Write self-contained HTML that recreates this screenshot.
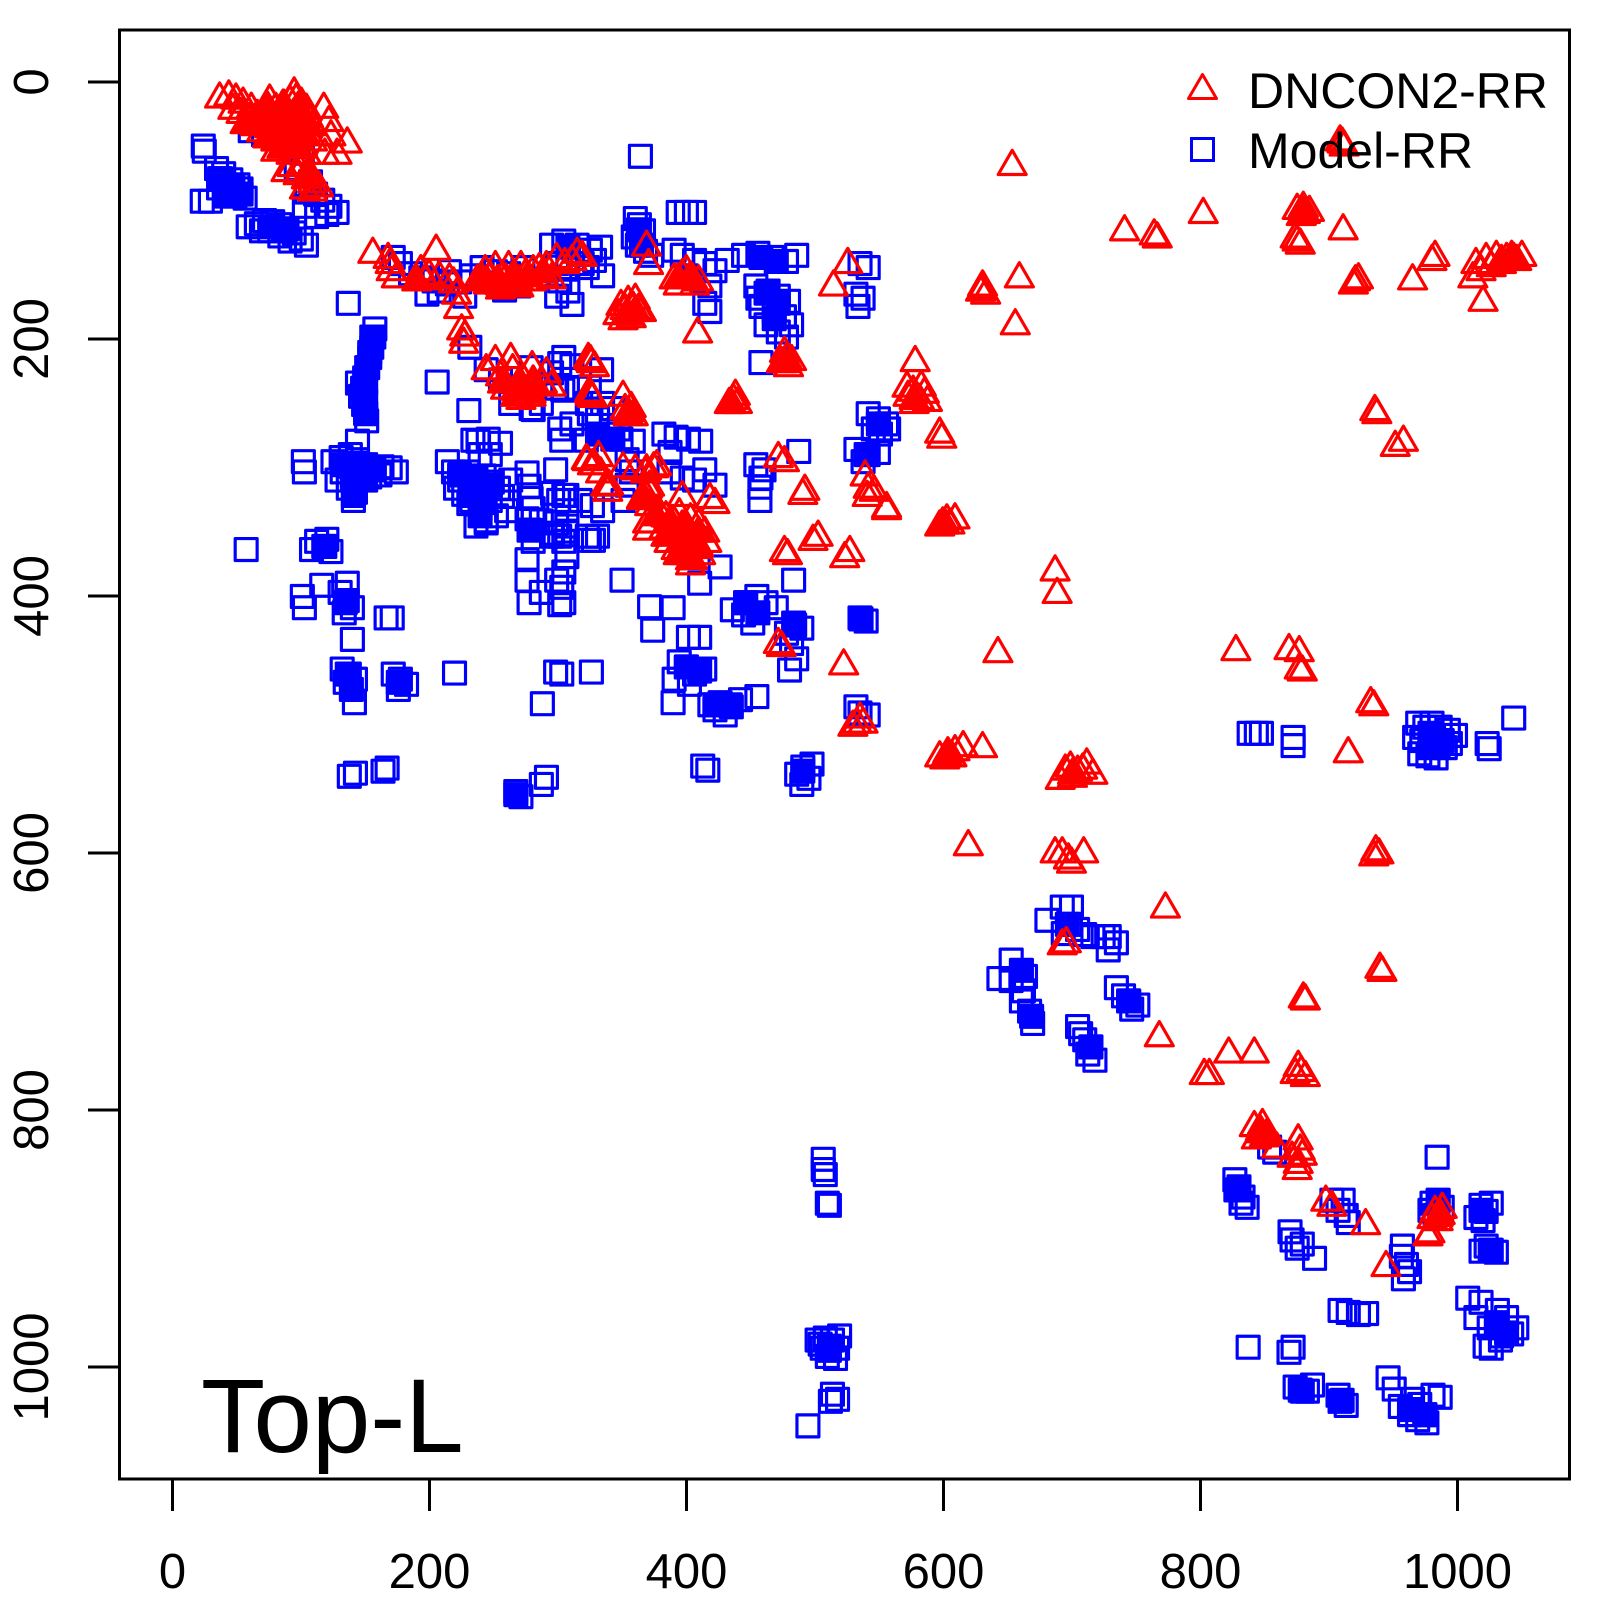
<!DOCTYPE html>
<html>
<head>
<meta charset="utf-8">
<style>
html,body{margin:0;padding:0;background:#fff}
svg{display:block}
text{font-family:"Liberation Sans","DejaVu Sans",sans-serif;fill:#000}
</style>
</head>
<body>
<svg width="1600" height="1600" viewBox="0 0 1600 1600">
<defs>
<path id="t" d="M0,-11.85L13.7,11.85L-13.7,11.85Z" fill="none" stroke="#ff0000" stroke-width="3.1" stroke-linejoin="round"/>
<path id="tf" d="M0,-11.85L13.7,11.85L-13.7,11.85Z" fill="#ff0000" stroke="#ff0000" stroke-width="3.1" stroke-linejoin="round"/>
<rect id="s" x="-10.75" y="-10.75" width="21.5" height="21.5" fill="none" stroke="#0000ff" stroke-width="3.1" stroke-linejoin="round"/>
<rect id="sf" x="-10.75" y="-10.75" width="21.5" height="21.5" fill="#0000ff" stroke="#0000ff" stroke-width="3.1" stroke-linejoin="round"/>
</defs>
<rect x="0" y="0" width="1600" height="1600" fill="#fff"/>
<g transform="scale(1.0214)">
<!-- BLUE -->
<use href="#s" x="199" y="143"/><use href="#s" x="200" y="148"/><use href="#s" x="212" y="165"/><use href="#s" x="219" y="170"/><use href="#s" x="226" y="176"/><use href="#s" x="233" y="181"/><use href="#s" x="214" y="184"/><use href="#s" x="222" y="188"/><use href="#s" x="230" y="192"/><use href="#s" x="240" y="194"/><use href="#s" x="198" y="197"/><use href="#s" x="206" y="197"/><use href="#s" x="216" y="175"/><use href="#s" x="236" y="185"/>
<use href="#s" x="243" y="222"/><use href="#s" x="251" y="219"/><use href="#s" x="259" y="216"/><use href="#s" x="267" y="217"/><use href="#s" x="274" y="220"/><use href="#s" x="281" y="224"/><use href="#s" x="288" y="228"/><use href="#s" x="295" y="234"/><use href="#s" x="300" y="240"/><use href="#s" x="264" y="226"/><use href="#s" x="274" y="231"/><use href="#s" x="284" y="236"/><use href="#s" x="256" y="226"/>
<use href="#s" x="245" y="128"/><use href="#s" x="258" y="132"/><use href="#s" x="272" y="122"/><use href="#s" x="288" y="112"/><use href="#s" x="296" y="150"/><use href="#s" x="290" y="165"/><use href="#s" x="304" y="178"/><use href="#s" x="309" y="190"/><use href="#s" x="316" y="196"/><use href="#s" x="323" y="202"/><use href="#s" x="330" y="208"/><use href="#s" x="320" y="210"/><use href="#s" x="300" y="188"/><use href="#s" x="298" y="202"/><use href="#s" x="310" y="212"/>
<use href="#s" x="385" y="252"/><use href="#s" x="392" y="258"/><use href="#s" x="402" y="268"/><use href="#s" x="412" y="272"/><use href="#s" x="425" y="275"/><use href="#s" x="438" y="278"/><use href="#s" x="450" y="276"/><use href="#s" x="462" y="270"/><use href="#s" x="440" y="266"/><use href="#s" x="472" y="262"/><use href="#s" x="485" y="266"/><use href="#s" x="498" y="268"/><use href="#s" x="512" y="262"/><use href="#s" x="508" y="280"/><use href="#s" x="494" y="284"/><use href="#s" x="430" y="285"/><use href="#s" x="418" y="288"/><use href="#s" x="455" y="290"/>
<use href="#s" x="540" y="240"/><use href="#s" x="552" y="236"/><use href="#s" x="565" y="240"/><use href="#s" x="578" y="245"/><use href="#s" x="588" y="242"/><use href="#s" x="545" y="258"/><use href="#s" x="556" y="262"/><use href="#s" x="570" y="258"/><use href="#s" x="548" y="275"/><use href="#s" x="556" y="285"/><use href="#s" x="560" y="298"/><use href="#s" x="545" y="290"/><use href="#s" x="575" y="262"/><use href="#s" x="582" y="255"/><use href="#s" x="590" y="270"/>
<use href="#s" x="622" y="214"/><use href="#s" x="626" y="220"/><use href="#s" x="630" y="226"/><use href="#s" x="620" y="232"/><use href="#s" x="624" y="240"/><use href="#s" x="632" y="246"/><use href="#s" x="638" y="250"/>
<use href="#s" x="627" y="153"/><use href="#s" x="664" y="208"/><use href="#s" x="672" y="208"/><use href="#s" x="680" y="208"/>
<use href="#s" x="660" y="245"/><use href="#s" x="668" y="250"/><use href="#s" x="680" y="255"/><use href="#s" x="690" y="258"/><use href="#s" x="700" y="265"/><use href="#s" x="672" y="270"/><use href="#s" x="695" y="280"/><use href="#s" x="712" y="255"/><use href="#s" x="728" y="250"/><use href="#s" x="742" y="248"/><use href="#s" x="756" y="252"/><use href="#s" x="770" y="256"/><use href="#s" x="780" y="250"/>
<use href="#s" x="740" y="280"/><use href="#s" x="752" y="285"/><use href="#s" x="762" y="290"/><use href="#s" x="772" y="295"/><use href="#s" x="745" y="300"/><use href="#s" x="758" y="305"/><use href="#s" x="768" y="310"/><use href="#s" x="775" y="318"/><use href="#s" x="750" y="318"/><use href="#s" x="762" y="325"/><use href="#s" x="770" y="330"/><use href="#s" x="742" y="292"/>
<use href="#s" x="842" y="258"/><use href="#s" x="850" y="262"/><use href="#s" x="838" y="288"/><use href="#s" x="845" y="292"/><use href="#s" x="840" y="300"/>
<use href="#s" x="690" y="297"/><use href="#s" x="695" y="305"/><use href="#s" x="745" y="355"/>
<use href="#s" x="341" y="297"/>
<use href="#s" x="367" y="322"/><use href="#s" x="366" y="330"/><use href="#s" x="364" y="340"/><use href="#s" x="362" y="350"/><use href="#s" x="359" y="360"/><use href="#s" x="357" y="370"/><use href="#s" x="355" y="380"/><use href="#s" x="353" y="388"/><use href="#s" x="356" y="396"/><use href="#s" x="358" y="404"/><use href="#s" x="359" y="412"/><use href="#s" x="350" y="375"/>
<use href="#s" x="297" y="452"/><use href="#s" x="298" y="462"/><use href="#s" x="326" y="452"/><use href="#s" x="334" y="448"/><use href="#s" x="343" y="445"/><use href="#s" x="350" y="450"/><use href="#s" x="358" y="455"/><use href="#s" x="366" y="458"/><use href="#s" x="374" y="457"/><use href="#s" x="382" y="458"/><use href="#s" x="335" y="462"/><use href="#s" x="345" y="466"/><use href="#s" x="353" y="468"/><use href="#s" x="341" y="478"/><use href="#s" x="348" y="482"/><use href="#s" x="346" y="490"/><use href="#s" x="362" y="467"/><use href="#s" x="372" y="465"/><use href="#s" x="350" y="432"/><use href="#s" x="330" y="470"/><use href="#s" x="388" y="462"/>
<use href="#s" x="428" y="374"/><use href="#s" x="459" y="402"/><use href="#s" x="460" y="340"/>
<use href="#s" x="476" y="362"/><use href="#s" x="490" y="372"/><use href="#s" x="520" y="360"/><use href="#s" x="540" y="365"/><use href="#s" x="545" y="380"/><use href="#s" x="530" y="395"/><use href="#s" x="500" y="395"/><use href="#s" x="520" y="400"/><use href="#s" x="548" y="356"/><use href="#s" x="551" y="382"/><use href="#s" x="522" y="401"/>
<use href="#s" x="468" y="432"/><use href="#s" x="478" y="430"/><use href="#s" x="490" y="434"/><use href="#s" x="480" y="445"/><use href="#s" x="470" y="445"/><use href="#s" x="463" y="431"/>
<use href="#s" x="552" y="350"/><use href="#s" x="560" y="358"/><use href="#s" x="565" y="380"/><use href="#s" x="575" y="395"/><use href="#s" x="590" y="395"/><use href="#s" x="600" y="400"/><use href="#s" x="585" y="410"/><use href="#s" x="577" y="379"/><use href="#s" x="577" y="405"/><use href="#s" x="596" y="425"/><use href="#s" x="608" y="430"/><use href="#s" x="620" y="432"/><use href="#s" x="606" y="420"/><use href="#s" x="560" y="415"/><use href="#s" x="548" y="420"/><use href="#s" x="550" y="431"/><use href="#s" x="574" y="431"/><use href="#s" x="589" y="362"/><use href="#s" x="614" y="450"/><use href="#s" x="618" y="462"/><use href="#s" x="614" y="475"/><use href="#s" x="610" y="490"/><use href="#s" x="544" y="460"/>
<use href="#s" x="650" y="425"/><use href="#s" x="662" y="428"/><use href="#s" x="674" y="430"/><use href="#s" x="686" y="432"/><use href="#s" x="656" y="443"/><use href="#s" x="655" y="462"/><use href="#s" x="668" y="468"/><use href="#s" x="680" y="470"/><use href="#s" x="690" y="460"/><use href="#s" x="700" y="475"/>
<use href="#s" x="438" y="452"/><use href="#s" x="444" y="462"/><use href="#s" x="450" y="470"/><use href="#s" x="458" y="462"/><use href="#s" x="466" y="468"/><use href="#s" x="474" y="466"/><use href="#s" x="482" y="472"/><use href="#s" x="488" y="478"/><use href="#s" x="492" y="486"/><use href="#s" x="480" y="490"/><use href="#s" x="470" y="498"/><use href="#s" x="462" y="490"/><use href="#s" x="454" y="484"/><use href="#s" x="446" y="478"/><use href="#s" x="472" y="480"/><use href="#s" x="496" y="500"/><use href="#s" x="476" y="510"/><use href="#s" x="466" y="515"/><use href="#s" x="486" y="505"/><use href="#s" x="500" y="470"/><use href="#s" x="467" y="483"/><use href="#s" x="459" y="493"/><use href="#s" x="476" y="512"/>
<use href="#s" x="516" y="463"/><use href="#s" x="518" y="476"/><use href="#s" x="520" y="488"/><use href="#s" x="522" y="498"/><use href="#s" x="516" y="508"/><use href="#s" x="530" y="510"/><use href="#s" x="541" y="483"/><use href="#s" x="545" y="512"/><use href="#s" x="548" y="525"/><use href="#s" x="540" y="525"/><use href="#s" x="555" y="520"/><use href="#s" x="522" y="509"/><use href="#s" x="541" y="522"/><use href="#s" x="547" y="490"/>
<use href="#s" x="518" y="519"/><use href="#s" x="522" y="530"/><use href="#s" x="516" y="548"/><use href="#s" x="516" y="568"/><use href="#s" x="545" y="568"/><use href="#s" x="518" y="590"/><use href="#s" x="548" y="592"/><use href="#s" x="530" y="580"/>
<use href="#s" x="552" y="485"/><use href="#s" x="555" y="500"/><use href="#s" x="555" y="515"/><use href="#s" x="552" y="530"/><use href="#s" x="555" y="545"/><use href="#s" x="552" y="560"/><use href="#s" x="550" y="575"/><use href="#s" x="552" y="590"/>
<use href="#s" x="555" y="485"/><use href="#s" x="568" y="490"/><use href="#s" x="580" y="495"/><use href="#s" x="590" y="500"/>
<use href="#s" x="577" y="529"/><use href="#s" x="585" y="525"/><use href="#s" x="575" y="525"/><use href="#s" x="609" y="568"/><use href="#s" x="581" y="529"/>
<use href="#s" x="744" y="477"/><use href="#s" x="744" y="490"/><use href="#s" x="740" y="455"/><use href="#s" x="748" y="460"/><use href="#s" x="745" y="468"/><use href="#s" x="782" y="442"/>
<use href="#s" x="636" y="594"/><use href="#s" x="659" y="595"/><use href="#s" x="639" y="617"/><use href="#s" x="685" y="624"/><use href="#s" x="674" y="624"/>
<use href="#s" x="672" y="653"/><use href="#s" x="665" y="648"/><use href="#s" x="680" y="660"/><use href="#s" x="690" y="655"/><use href="#s" x="660" y="665"/><use href="#s" x="675" y="670"/>
<use href="#s" x="659" y="688"/><use href="#s" x="705" y="688"/><use href="#s" x="695" y="690"/><use href="#s" x="715" y="690"/><use href="#s" x="725" y="685"/><use href="#s" x="741" y="682"/><use href="#s" x="710" y="700"/><use href="#s" x="700" y="695"/>
<use href="#s" x="705" y="555"/><use href="#s" x="685" y="571"/><use href="#s" x="741" y="584"/><use href="#s" x="730" y="590"/><use href="#s" x="717" y="597"/><use href="#s" x="750" y="590"/><use href="#s" x="737" y="610"/><use href="#s" x="728" y="602"/><use href="#s" x="760" y="595"/>
<use href="#s" x="777" y="568"/><use href="#s" x="777" y="610"/><use href="#s" x="770" y="620"/><use href="#s" x="785" y="615"/><use href="#s" x="775" y="630"/><use href="#s" x="773" y="656"/><use href="#s" x="780" y="645"/>
<use href="#s" x="842" y="605"/><use href="#s" x="848" y="608"/><use href="#s" x="842" y="698"/><use href="#s" x="850" y="700"/><use href="#s" x="838" y="692"/>
<use href="#s" x="693" y="754"/><use href="#s" x="688" y="750"/><use href="#s" x="786" y="751"/><use href="#s" x="780" y="758"/><use href="#s" x="795" y="748"/><use href="#s" x="792" y="762"/><use href="#s" x="785" y="768"/>
<use href="#s" x="850" y="405"/><use href="#s" x="860" y="410"/><use href="#s" x="868" y="415"/><use href="#s" x="855" y="420"/><use href="#s" x="862" y="425"/><use href="#s" x="870" y="420"/><use href="#s" x="838" y="440"/><use href="#s" x="850" y="445"/><use href="#s" x="860" y="443"/><use href="#s" x="845" y="452"/>
<use href="#s" x="241" y="538"/><use href="#s" x="310" y="530"/><use href="#s" x="317" y="535"/><use href="#s" x="324" y="540"/><use href="#s" x="320" y="528"/><use href="#s" x="305" y="538"/>
<use href="#s" x="296" y="584"/><use href="#s" x="298" y="595"/><use href="#s" x="333" y="580"/><use href="#s" x="340" y="588"/><use href="#s" x="345" y="595"/><use href="#s" x="337" y="600"/><use href="#s" x="315" y="573"/><use href="#s" x="340" y="571"/>
<use href="#s" x="384" y="605"/><use href="#s" x="378" y="605"/><use href="#s" x="345" y="626"/>
<use href="#s" x="335" y="655"/><use href="#s" x="342" y="660"/><use href="#s" x="348" y="665"/><use href="#s" x="338" y="668"/><use href="#s" x="347" y="688"/>
<use href="#s" x="385" y="660"/><use href="#s" x="392" y="665"/><use href="#s" x="398" y="670"/><use href="#s" x="390" y="675"/>
<use href="#s" x="445" y="659"/><use href="#s" x="544" y="658"/><use href="#s" x="550" y="660"/><use href="#s" x="579" y="658"/><use href="#s" x="531" y="689"/>
<use href="#s" x="348" y="757"/><use href="#s" x="342" y="760"/><use href="#s" x="379" y="752"/><use href="#s" x="375" y="755"/>
<use href="#s" x="505" y="775"/><use href="#s" x="510" y="780"/><use href="#s" x="535" y="761"/><use href="#s" x="530" y="768"/>
<use href="#s" x="806" y="1135"/><use href="#s" x="806" y="1145"/><use href="#s" x="808" y="1150"/><use href="#s" x="810" y="1178"/><use href="#s" x="812" y="1180"/>
<use href="#s" x="800" y="1312"/><use href="#s" x="808" y="1310"/><use href="#s" x="815" y="1312"/><use href="#s" x="822" y="1308"/><use href="#s" x="805" y="1320"/><use href="#s" x="812" y="1322"/><use href="#s" x="820" y="1320"/><use href="#s" x="810" y="1328"/><use href="#s" x="818" y="1330"/><use href="#s" x="803" y="1316"/>
<use href="#s" x="815" y="1365"/><use href="#s" x="820" y="1370"/><use href="#s" x="813" y="1372"/><use href="#s" x="791" y="1396"/>
<use href="#s" x="1223" y="718"/><use href="#s" x="1230" y="718"/><use href="#s" x="1235" y="718"/><use href="#s" x="1266" y="722"/><use href="#s" x="1266" y="730"/>
<use href="#s" x="1388" y="708"/><use href="#s" x="1395" y="712"/><use href="#s" x="1402" y="708"/><use href="#s" x="1410" y="712"/><use href="#s" x="1418" y="715"/><use href="#s" x="1425" y="720"/><use href="#s" x="1385" y="722"/><use href="#s" x="1392" y="725"/><use href="#s" x="1400" y="728"/><use href="#s" x="1408" y="730"/><use href="#s" x="1415" y="732"/><use href="#s" x="1390" y="738"/><use href="#s" x="1398" y="740"/><use href="#s" x="1406" y="742"/><use href="#s" x="1420" y="728"/>
<use href="#s" x="1456" y="728"/><use href="#s" x="1458" y="733"/><use href="#s" x="1482" y="703"/>
<use href="#s" x="1025" y="901"/><use href="#s" x="1040" y="888"/><use href="#s" x="1049" y="888"/><use href="#s" x="1048" y="905"/><use href="#s" x="1041" y="914"/><use href="#s" x="1055" y="910"/><use href="#s" x="1062" y="915"/><use href="#s" x="1070" y="917"/><use href="#s" x="1080" y="917"/><use href="#s" x="1086" y="917"/><use href="#s" x="1093" y="923"/><use href="#s" x="1085" y="930"/>
<use href="#s" x="990" y="940"/><use href="#s" x="978" y="958"/><use href="#s" x="990" y="960"/><use href="#s" x="1004" y="956"/><use href="#s" x="1002" y="970"/><use href="#s" x="1000" y="980"/><use href="#s" x="1008" y="990"/><use href="#s" x="1011" y="1002"/>
<use href="#s" x="1055" y="1005"/><use href="#s" x="1058" y="1012"/><use href="#s" x="1062" y="1018"/><use href="#s" x="1068" y="1025"/><use href="#s" x="1072" y="1038"/><use href="#s" x="1065" y="1032"/>
<use href="#s" x="1093" y="967"/><use href="#s" x="1100" y="975"/><use href="#s" x="1105" y="980"/><use href="#s" x="1114" y="984"/><use href="#s" x="1108" y="988"/>
<use href="#s" x="1209" y="1155"/><use href="#s" x="1213" y="1162"/><use href="#s" x="1217" y="1172"/><use href="#s" x="1221" y="1182"/><use href="#s" x="1215" y="1178"/><use href="#s" x="1210" y="1165"/>
<use href="#s" x="1243" y="1123"/><use href="#s" x="1248" y="1128"/>
<use href="#s" x="1304" y="1175"/><use href="#s" x="1315" y="1175"/><use href="#s" x="1310" y="1185"/><use href="#s" x="1320" y="1197"/><use href="#s" x="1318" y="1190"/>
<use href="#s" x="1263" y="1206"/><use href="#s" x="1265" y="1214"/><use href="#s" x="1270" y="1222"/><use href="#s" x="1287" y="1232"/><use href="#s" x="1275" y="1218"/>
<use href="#s" x="1407" y="1133"/>
<use href="#s" x="1408" y="1175"/><use href="#s" x="1402" y="1178"/><use href="#s" x="1412" y="1182"/><use href="#s" x="1405" y="1190"/><use href="#s" x="1400" y="1185"/>
<use href="#s" x="1450" y="1180"/><use href="#s" x="1455" y="1186"/><use href="#s" x="1460" y="1178"/><use href="#s" x="1445" y="1192"/><use href="#s" x="1452" y="1195"/>
<use href="#s" x="1459" y="1224"/><use href="#s" x="1455" y="1220"/><use href="#s" x="1465" y="1226"/><use href="#s" x="1450" y="1225"/>
<use href="#s" x="1373" y="1220"/><use href="#s" x="1377" y="1238"/><use href="#s" x="1374" y="1252"/><use href="#s" x="1380" y="1245"/><use href="#s" x="1372" y="1230"/>
<use href="#s" x="1312" y="1283"/><use href="#s" x="1320" y="1285"/><use href="#s" x="1330" y="1287"/><use href="#s" x="1338" y="1286"/>
<use href="#s" x="1437" y="1271"/><use href="#s" x="1450" y="1275"/><use href="#s" x="1466" y="1283"/><use href="#s" x="1475" y="1290"/><use href="#s" x="1485" y="1300"/><use href="#s" x="1480" y="1306"/><use href="#s" x="1469" y="1312"/><use href="#s" x="1454" y="1318"/><use href="#s" x="1460" y="1320"/><use href="#s" x="1470" y="1308"/><use href="#s" x="1445" y="1290"/><use href="#s" x="1458" y="1300"/>
<use href="#s" x="1222" y="1319"/><use href="#s" x="1266" y="1319"/><use href="#s" x="1262" y="1324"/>
<use href="#s" x="1268" y="1358"/><use href="#s" x="1273" y="1361"/><use href="#s" x="1280" y="1362"/><use href="#s" x="1314" y="1371"/><use href="#s" x="1310" y="1366"/><use href="#s" x="1318" y="1376"/><use href="#s" x="1285" y="1356"/>
<use href="#s" x="1359" y="1349"/><use href="#s" x="1365" y="1360"/><use href="#s" x="1371" y="1377"/><use href="#s" x="1380" y="1385"/><use href="#s" x="1390" y="1375"/><use href="#s" x="1403" y="1366"/><use href="#s" x="1397" y="1393"/><use href="#s" x="1395" y="1385"/><use href="#s" x="1388" y="1390"/><use href="#s" x="1410" y="1368"/><use href="#s" x="1383" y="1370"/>
<!-- BLUE solid cores -->
<use href="#sf" x="215" y="175"/><use href="#sf" x="228" y="182"/><use href="#sf" x="222" y="192"/><use href="#sf" x="236" y="190"/>
<use href="#sf" x="266" y="222"/><use href="#sf" x="279" y="226"/>
<use href="#sf" x="364" y="330"/><use href="#sf" x="362" y="345"/><use href="#sf" x="360" y="360"/><use href="#sf" x="358" y="375"/><use href="#sf" x="358" y="392"/><use href="#sf" x="358" y="405"/>
<use href="#sf" x="336" y="455"/><use href="#sf" x="350" y="455"/><use href="#sf" x="365" y="460"/><use href="#sf" x="345" y="470"/><use href="#sf" x="358" y="470"/><use href="#sf" x="346" y="485"/>
<use href="#sf" x="450" y="465"/><use href="#sf" x="465" y="470"/><use href="#sf" x="480" y="475"/><use href="#sf" x="460" y="485"/><use href="#sf" x="475" y="492"/><use href="#sf" x="470" y="505"/>
<use href="#sf" x="625" y="225"/><use href="#sf" x="628" y="240"/>
<use href="#sf" x="745" y="252"/><use href="#sf" x="760" y="256"/><use href="#sf" x="750" y="287"/><use href="#sf" x="762" y="297"/><use href="#sf" x="758" y="312"/>
<use href="#sf" x="860" y="415"/><use href="#sf" x="848" y="445"/>
<use href="#sf" x="730" y="590"/><use href="#sf" x="742" y="600"/><use href="#sf" x="778" y="612"/>
<use href="#sf" x="672" y="653"/><use href="#sf" x="685" y="657"/>
<use href="#sf" x="700" y="690"/><use href="#sf" x="716" y="692"/>
<use href="#sf" x="843" y="606"/><use href="#sf" x="786" y="755"/>
<use href="#sf" x="318" y="535"/><use href="#sf" x="338" y="590"/><use href="#sf" x="340" y="660"/><use href="#sf" x="344" y="675"/><use href="#sf" x="390" y="668"/>
<use href="#sf" x="518" y="519"/><use href="#sf" x="505" y="778"/>
<use href="#sf" x="585" y="425"/><use href="#sf" x="600" y="430"/><use href="#sf" x="556" y="242"/>
<use href="#sf" x="1400" y="718"/><use href="#sf" x="1412" y="725"/><use href="#sf" x="1400" y="732"/>
<use href="#sf" x="1408" y="1176"/><use href="#sf" x="1450" y="1185"/><use href="#sf" x="1460" y="1224"/><use href="#sf" x="1465" y="1295"/><use href="#sf" x="1475" y="1305"/><use href="#sf" x="1380" y="1380"/><use href="#sf" x="1395" y="1385"/><use href="#sf" x="1275" y="1362"/><use href="#sf" x="1312" y="1372"/><use href="#sf" x="1213" y="1165"/>
<use href="#sf" x="1045" y="905"/><use href="#sf" x="1000" y="950"/><use href="#sf" x="1010" y="995"/><use href="#sf" x="1068" y="1025"/><use href="#sf" x="1105" y="980"/>
<use href="#sf" x="812" y="1318"/>
<!-- RED -->
<use href="#t" x="215" y="93"/><use href="#t" x="224" y="91"/><use href="#t" x="231" y="94"/><use href="#t" x="238" y="98"/><use href="#t" x="246" y="103"/><use href="#t" x="228" y="104"/><use href="#t" x="236" y="108"/><use href="#t" x="244" y="113"/><use href="#t" x="252" y="110"/><use href="#t" x="258" y="114"/><use href="#t" x="264" y="106"/><use href="#t" x="270" y="103"/><use href="#t" x="277" y="100"/><use href="#t" x="284" y="96"/><use href="#t" x="290" y="94"/><use href="#t" x="295" y="98"/><use href="#t" x="300" y="104"/><use href="#t" x="288" y="108"/><use href="#t" x="280" y="113"/><use href="#t" x="272" y="118"/><use href="#t" x="264" y="122"/><use href="#t" x="256" y="126"/><use href="#t" x="250" y="120"/><use href="#t" x="262" y="132"/><use href="#t" x="270" y="135"/><use href="#t" x="278" y="128"/><use href="#t" x="286" y="124"/><use href="#t" x="294" y="118"/><use href="#t" x="302" y="112"/><use href="#t" x="306" y="120"/><use href="#t" x="298" y="128"/><use href="#t" x="290" y="134"/><use href="#t" x="282" y="140"/><use href="#t" x="296" y="140"/><use href="#t" x="306" y="135"/><use href="#t" x="312" y="130"/><use href="#t" x="270" y="145"/><use href="#t" x="285" y="148"/><use href="#t" x="300" y="148"/><use href="#t" x="264" y="95"/><use href="#t" x="288" y="88"/><use href="#t" x="276" y="110"/><use href="#t" x="292" y="112"/>
<use href="#t" x="317" y="103"/><use href="#t" x="322" y="116"/><use href="#t" x="340" y="137"/><use href="#t" x="324" y="130"/><use href="#t" x="330" y="148"/><use href="#t" x="318" y="148"/>
<use href="#t" x="286" y="160"/><use href="#t" x="292" y="168"/><use href="#t" x="300" y="172"/><use href="#t" x="306" y="176"/><use href="#t" x="298" y="182"/><use href="#t" x="306" y="184"/><use href="#t" x="312" y="180"/><use href="#t" x="280" y="165"/><use href="#t" x="295" y="158"/><use href="#t" x="302" y="165"/>
<use href="#t" x="365" y="245"/><use href="#t" x="380" y="250"/><use href="#t" x="382" y="255"/><use href="#t" x="388" y="269"/><use href="#t" x="383" y="262"/><use href="#t" x="412" y="262"/><use href="#t" x="416" y="271"/><use href="#t" x="420" y="266"/><use href="#t" x="427" y="242"/><use href="#t" x="444" y="274"/><use href="#t" x="447" y="285"/><use href="#t" x="449" y="299"/><use href="#t" x="455" y="326"/><use href="#t" x="452" y="320"/><use href="#t" x="454" y="333"/><use href="#t" x="440" y="270"/><use href="#t" x="430" y="268"/>
<use href="#t" x="467" y="272"/><use href="#t" x="472" y="270"/><use href="#t" x="480" y="268"/><use href="#t" x="488" y="272"/><use href="#t" x="495" y="270"/><use href="#t" x="502" y="268"/><use href="#t" x="508" y="272"/><use href="#t" x="515" y="265"/><use href="#t" x="522" y="262"/><use href="#t" x="528" y="260"/><use href="#t" x="535" y="258"/><use href="#t" x="545" y="250"/><use href="#t" x="553" y="255"/><use href="#t" x="565" y="245"/><use href="#t" x="570" y="248"/><use href="#t" x="478" y="275"/><use href="#t" x="490" y="276"/><use href="#t" x="500" y="276"/><use href="#t" x="520" y="272"/><use href="#t" x="475" y="262"/><use href="#t" x="485" y="258"/><use href="#t" x="498" y="258"/><use href="#t" x="510" y="258"/><use href="#t" x="532" y="268"/><use href="#t" x="540" y="270"/><use href="#t" x="560" y="252"/>
<use href="#t" x="633" y="238"/><use href="#t" x="635" y="256"/>
<use href="#t" x="605" y="305"/><use href="#t" x="612" y="300"/><use href="#t" x="620" y="298"/><use href="#t" x="625" y="300"/><use href="#t" x="610" y="310"/><use href="#t" x="618" y="308"/><use href="#t" x="628" y="302"/><use href="#t" x="615" y="292"/><use href="#t" x="622" y="290"/><use href="#t" x="608" y="296"/>
<use href="#t" x="660" y="270"/><use href="#t" x="668" y="266"/><use href="#t" x="676" y="268"/><use href="#t" x="684" y="272"/><use href="#t" x="672" y="262"/><use href="#t" x="664" y="276"/><use href="#t" x="680" y="276"/>
<use href="#t" x="683" y="323"/>
<use href="#t" x="770" y="348"/><use href="#t" x="765" y="352"/><use href="#t" x="775" y="350"/><use href="#t" x="768" y="342"/><use href="#t" x="772" y="356"/>
<use href="#t" x="830" y="255"/><use href="#t" x="816" y="277"/>
<use href="#t" x="962" y="277"/><use href="#t" x="960" y="282"/><use href="#t" x="965" y="285"/><use href="#t" x="962" y="280"/>
<use href="#t" x="998" y="269"/><use href="#t" x="994" y="315"/><use href="#t" x="991" y="159"/>
<use href="#t" x="896" y="351"/>
<use href="#t" x="889" y="385"/><use href="#t" x="894" y="380"/><use href="#t" x="900" y="388"/><use href="#t" x="905" y="382"/><use href="#t" x="895" y="392"/><use href="#t" x="888" y="376"/><use href="#t" x="902" y="375"/><use href="#t" x="908" y="390"/>
<use href="#t" x="920" y="421"/><use href="#t" x="922" y="426"/>
<use href="#t" x="579" y="352"/><use href="#t" x="576" y="348"/><use href="#t" x="582" y="356"/><use href="#t" x="578" y="350"/><use href="#t" x="578" y="384"/><use href="#t" x="577" y="381"/><use href="#t" x="580" y="386"/><use href="#t" x="610" y="385"/>
<use href="#t" x="615" y="401"/><use href="#t" x="612" y="398"/><use href="#t" x="620" y="404"/><use href="#t" x="618" y="396"/>
<use href="#t" x="718" y="388"/><use href="#t" x="714" y="392"/><use href="#t" x="722" y="392"/><use href="#t" x="720" y="384"/>
<use href="#t" x="502" y="359"/><use href="#t" x="476" y="359"/><use href="#t" x="505" y="379"/><use href="#t" x="521" y="356"/><use href="#t" x="531" y="372"/><use href="#t" x="490" y="365"/><use href="#t" x="512" y="368"/><use href="#t" x="495" y="378"/><use href="#t" x="520" y="385"/><use href="#t" x="535" y="362"/><use href="#t" x="485" y="350"/><use href="#t" x="500" y="348"/><use href="#t" x="540" y="375"/><use href="#t" x="510" y="388"/>
<use href="#t" x="586" y="444"/><use href="#t" x="574" y="447"/><use href="#t" x="593" y="473"/><use href="#t" x="580" y="452"/>
<use href="#t" x="595" y="478"/><use href="#t" x="631" y="486"/><use href="#t" x="668" y="483"/><use href="#t" x="695" y="485"/><use href="#t" x="700" y="490"/>
<use href="#t" x="575" y="448"/><use href="#t" x="582" y="452"/><use href="#t" x="588" y="460"/><use href="#t" x="596" y="472"/><use href="#t" x="610" y="455"/><use href="#t" x="622" y="457"/><use href="#t" x="632" y="460"/><use href="#t" x="640" y="455"/><use href="#t" x="634" y="475"/><use href="#t" x="628" y="485"/><use href="#t" x="636" y="492"/><use href="#t" x="645" y="498"/><use href="#t" x="652" y="503"/><use href="#t" x="660" y="508"/><use href="#t" x="668" y="512"/><use href="#t" x="676" y="505"/><use href="#t" x="684" y="510"/><use href="#t" x="690" y="518"/><use href="#t" x="660" y="520"/><use href="#t" x="668" y="525"/><use href="#t" x="676" y="528"/><use href="#t" x="684" y="532"/><use href="#t" x="692" y="528"/><use href="#t" x="650" y="515"/><use href="#t" x="655" y="528"/><use href="#t" x="662" y="535"/><use href="#t" x="670" y="540"/><use href="#t" x="678" y="545"/><use href="#t" x="686" y="540"/><use href="#t" x="665" y="500"/><use href="#t" x="676" y="550"/><use href="#t" x="634" y="516"/><use href="#t" x="633" y="457"/><use href="#t" x="643" y="453"/><use href="#t" x="636" y="473"/><use href="#t" x="633" y="483"/><use href="#t" x="634" y="509"/>
<use href="#t" x="768" y="449"/><use href="#t" x="762" y="445"/><use href="#t" x="786" y="481"/><use href="#t" x="788" y="477"/><use href="#t" x="771" y="540"/><use href="#t" x="768" y="537"/><use href="#t" x="796" y="526"/><use href="#t" x="801" y="522"/><use href="#t" x="827" y="543"/><use href="#t" x="832" y="537"/><use href="#t" x="849" y="483"/><use href="#t" x="856" y="478"/><use href="#t" x="868" y="496"/><use href="#t" x="847" y="463"/><use href="#t" x="850" y="475"/><use href="#t" x="868" y="494"/>
<use href="#t" x="923" y="509"/><use href="#t" x="927" y="506"/><use href="#t" x="930" y="510"/><use href="#t" x="935" y="505"/><use href="#t" x="920" y="512"/>
<use href="#t" x="762" y="627"/><use href="#t" x="765" y="630"/><use href="#t" x="826" y="648"/><use href="#t" x="977" y="636"/>
<use href="#t" x="839" y="705"/><use href="#t" x="845" y="705"/><use href="#t" x="835" y="708"/><use href="#t" x="842" y="700"/>
<use href="#t" x="928" y="734"/><use href="#t" x="920" y="738"/><use href="#t" x="935" y="732"/><use href="#t" x="943" y="728"/><use href="#t" x="962" y="729"/><use href="#t" x="925" y="740"/><use href="#t" x="932" y="738"/>
<use href="#t" x="1033" y="556"/><use href="#t" x="1035" y="578"/><use href="#t" x="948" y="825"/>
<use href="#t" x="1043" y="751"/><use href="#t" x="1048" y="748"/><use href="#t" x="1055" y="752"/><use href="#t" x="1060" y="750"/><use href="#t" x="1070" y="755"/><use href="#t" x="1038" y="760"/><use href="#t" x="1050" y="758"/><use href="#t" x="1064" y="745"/>
<use href="#t" x="1033" y="832"/><use href="#t" x="1040" y="832"/><use href="#t" x="1061" y="832"/><use href="#t" x="1049" y="842"/><use href="#t" x="1046" y="838"/>
<use href="#t" x="1044" y="920"/><use href="#t" x="1040" y="922"/>
<use href="#t" x="1141" y="886"/><use href="#t" x="1135" y="1012"/>
<use href="#t" x="1203" y="1028"/><use href="#t" x="1228" y="1028"/><use href="#t" x="1179" y="1049"/><use href="#t" x="1184" y="1049"/>
<use href="#t" x="1271" y="1041"/><use href="#t" x="1278" y="1051"/><use href="#t" x="1274" y="1046"/><use href="#t" x="1268" y="1048"/>
<use href="#t" x="1210" y="634"/><use href="#t" x="1262" y="633"/><use href="#t" x="1272" y="635"/><use href="#t" x="1272" y="652"/><use href="#t" x="1275" y="654"/>
<use href="#t" x="1342" y="685"/><use href="#t" x="1345" y="688"/><use href="#t" x="1320" y="734"/>
<use href="#t" x="1347" y="830"/><use href="#t" x="1350" y="833"/><use href="#t" x="1345" y="835"/>
<use href="#t" x="1351" y="945"/><use href="#t" x="1353" y="948"/><use href="#t" x="1276" y="974"/><use href="#t" x="1278" y="976"/>
<use href="#t" x="1314" y="137"/><use href="#t" x="1316" y="140"/><use href="#t" x="1312" y="135"/>
<use href="#t" x="1178" y="206"/><use href="#t" x="1101" y="223"/><use href="#t" x="1130" y="227"/><use href="#t" x="1133" y="230"/>
<use href="#t" x="1270" y="202"/><use href="#t" x="1276" y="200"/><use href="#t" x="1282" y="204"/><use href="#t" x="1274" y="208"/><use href="#t" x="1278" y="206"/><use href="#t" x="1270" y="233"/><use href="#t" x="1273" y="236"/><use href="#t" x="1268" y="230"/>
<use href="#t" x="1315" y="222"/><use href="#t" x="1327" y="272"/><use href="#t" x="1325" y="275"/><use href="#t" x="1330" y="270"/>
<use href="#t" x="1405" y="248"/><use href="#t" x="1402" y="252"/><use href="#t" x="1383" y="271"/>
<use href="#t" x="1445" y="255"/><use href="#t" x="1455" y="250"/><use href="#t" x="1465" y="248"/><use href="#t" x="1475" y="250"/><use href="#t" x="1480" y="248"/><use href="#t" x="1490" y="248"/><use href="#t" x="1460" y="258"/><use href="#t" x="1470" y="255"/><use href="#t" x="1485" y="252"/><use href="#t" x="1450" y="262"/>
<use href="#t" x="1442" y="269"/><use href="#t" x="1452" y="292"/>
<use href="#t" x="1346" y="399"/><use href="#t" x="1348" y="402"/><use href="#t" x="1374" y="429"/><use href="#t" x="1366" y="434"/>
<use href="#t" x="1228" y="1100"/><use href="#t" x="1234" y="1104"/><use href="#t" x="1240" y="1108"/><use href="#t" x="1230" y="1112"/><use href="#t" x="1238" y="1110"/><use href="#t" x="1236" y="1098"/>
<use href="#t" x="1271" y="1113"/><use href="#t" x="1273" y="1123"/><use href="#t" x="1271" y="1136"/><use href="#t" x="1270" y="1142"/><use href="#t" x="1250" y="1121"/><use href="#t" x="1265" y="1130"/><use href="#t" x="1275" y="1128"/>
<use href="#t" x="1298" y="1173"/><use href="#t" x="1304" y="1178"/><use href="#t" x="1337" y="1196"/><use href="#t" x="1357" y="1237"/>
<use href="#t" x="1405" y="1183"/><use href="#t" x="1410" y="1186"/><use href="#t" x="1412" y="1180"/><use href="#t" x="1402" y="1190"/><use href="#t" x="1408" y="1192"/><use href="#t" x="1398" y="1207"/><use href="#t" x="1400" y="1204"/>
<!-- RED solid cores -->
<use href="#tf" x="262" y="102"/><use href="#tf" x="278" y="100"/><use href="#tf" x="292" y="102"/><use href="#tf" x="256" y="116"/><use href="#tf" x="272" y="116"/><use href="#tf" x="288" y="116"/><use href="#tf" x="302" y="120"/><use href="#tf" x="266" y="130"/><use href="#tf" x="282" y="130"/><use href="#tf" x="298" y="130"/><use href="#tf" x="276" y="142"/><use href="#tf" x="292" y="142"/><use href="#tf" x="240" y="118"/><use href="#tf" x="300" y="172"/>
<use href="#tf" x="408" y="272"/><use href="#tf" x="472" y="272"/><use href="#tf" x="487" y="272"/><use href="#tf" x="502" y="270"/><use href="#tf" x="517" y="268"/><use href="#tf" x="532" y="264"/><use href="#tf" x="490" y="280"/><use href="#tf" x="508" y="278"/>
<use href="#tf" x="664" y="270"/><use href="#tf" x="678" y="270"/>
<use href="#tf" x="615" y="305"/><use href="#tf" x="622" y="302"/>
<use href="#tf" x="768" y="352"/><use href="#tf" x="716" y="392"/><use href="#tf" x="895" y="388"/><use href="#tf" x="615" y="404"/>
<use href="#tf" x="492" y="372"/><use href="#tf" x="508" y="372"/><use href="#tf" x="522" y="370"/><use href="#tf" x="505" y="385"/><use href="#tf" x="520" y="382"/>
<use href="#tf" x="642" y="502"/><use href="#tf" x="656" y="508"/><use href="#tf" x="670" y="512"/><use href="#tf" x="684" y="518"/><use href="#tf" x="652" y="522"/><use href="#tf" x="666" y="528"/><use href="#tf" x="680" y="534"/><use href="#tf" x="664" y="540"/><use href="#tf" x="676" y="545"/><use href="#tf" x="628" y="486"/>
<use href="#tf" x="925" y="510"/><use href="#tf" x="928" y="738"/><use href="#tf" x="1050" y="755"/>
<use href="#tf" x="1470" y="252"/><use href="#tf" x="1482" y="250"/><use href="#tf" x="1276" y="205"/>
<use href="#tf" x="1234" y="1106"/><use href="#tf" x="1408" y="1188"/>
</g>

<!-- plot box -->
<rect x="119.5" y="30" width="1450" height="1449" fill="none" stroke="#000" stroke-width="3"/>

<!-- ticks -->
<g stroke="#000" stroke-width="3">
<line x1="172.5" y1="1479" x2="172.5" y2="1511"/>
<line x1="429.5" y1="1479" x2="429.5" y2="1511"/>
<line x1="686.5" y1="1479" x2="686.5" y2="1511"/>
<line x1="943.5" y1="1479" x2="943.5" y2="1511"/>
<line x1="1200.5" y1="1479" x2="1200.5" y2="1511"/>
<line x1="1457.5" y1="1479" x2="1457.5" y2="1511"/>
<line x1="88" y1="82" x2="119" y2="82"/>
<line x1="88" y1="339" x2="119" y2="339"/>
<line x1="88" y1="596" x2="119" y2="596"/>
<line x1="88" y1="853" x2="119" y2="853"/>
<line x1="88" y1="1110" x2="119" y2="1110"/>
<line x1="88" y1="1367" x2="119" y2="1367"/>
</g>

<g font-size="49" text-anchor="middle">
<text x="172.5" y="1588">0</text>
<text x="429.5" y="1588">200</text>
<text x="686.5" y="1588">400</text>
<text x="943.5" y="1588">600</text>
<text x="1200.5" y="1588">800</text>
<text x="1457.5" y="1588">1000</text>
<text transform="translate(48,82) rotate(-90)">0</text>
<text transform="translate(48,339) rotate(-90)">200</text>
<text transform="translate(48,596) rotate(-90)">400</text>
<text transform="translate(48,853) rotate(-90)">600</text>
<text transform="translate(48,1110) rotate(-90)">800</text>
<text transform="translate(48,1367) rotate(-90)">1000</text>
</g>

<!-- legend -->
<path d="M1202.5,74.5L1216.5,98.5L1188.5,98.5Z" fill="none" stroke="#ff0000" stroke-width="3" stroke-linejoin="round"/>
<rect x="1191.5" y="138.5" width="22" height="22" fill="none" stroke="#0000ff" stroke-width="3"/>
<text x="1248" y="108" font-size="50">DNCON2-RR</text>
<text x="1248" y="168" font-size="50">Model-RR</text>

<!-- panel label -->
<text x="201" y="1452" font-size="105">Top-L</text>
</svg>
</body>
</html>
